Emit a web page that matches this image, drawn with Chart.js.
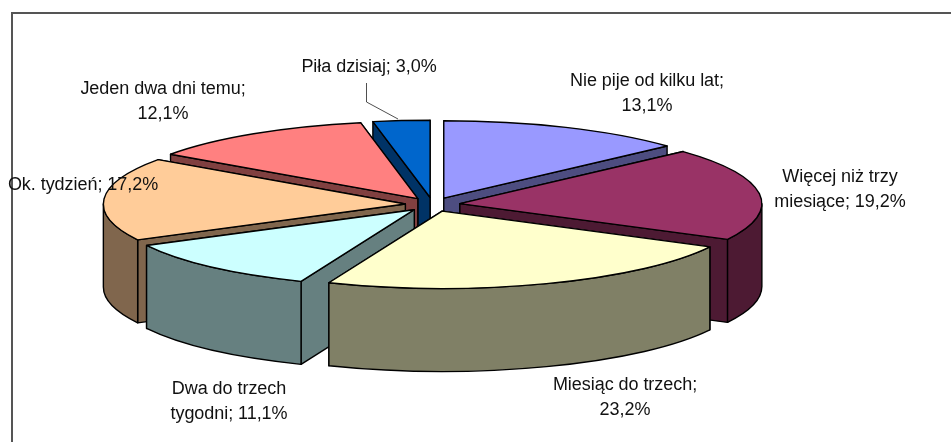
<!DOCTYPE html>
<html lang="pl">
<head>
    <meta charset="UTF-8">
    <title>Pie 3D</title>
    <script src="https://cdn.jsdelivr.net/npm/chart.js"></script>
    <style>
        body { margin: 0; background: #fff; overflow: hidden; }
        #frame {
            position: absolute; left: 11px; top: 12px; right: 0; bottom: 0;
            border-left: 2px solid #555; border-top: 2px solid #555;
        }
        canvas { position: absolute; left: 0; top: 0; }
    </style>
</head>
<body>
    <div id="frame"></div>
    <canvas id="chart" width="951" height="442"></canvas>
    <script>
        const categories = ['Nie pije od kilku lat', 'Więcej niż trzy miesiące', 'Miesiąc do trzech', 'Dwa do trzech tygodni', 'Ok. tydzień', 'Jeden dwa dni temu', 'Piła dzisiaj'];
        const values = [13.1, 19.2, 23.2, 11.1, 17.2, 12.1, 3.0];
        const topColors = ['#9999FF', '#993366', '#FFFFCC', '#CCFFFF', '#FFCC99', '#FF8080', '#0066CC'];
        const wallColors = ['#4D4D80', '#4D1A33', '#808066', '#668080', '#80664D', '#804040', '#003366'];

        // how the flat pie is tilted
        const squash = 0.256;
        const depth = 83;
        const explode = 27.4;
        // back slices first
        const drawOrder = [6, 0, 5, 1, 4, 3, 2];

        // where each label sits: centre x, first baseline, words on the first line
        const labelSpots = [
            { x: 647, y: 86, words: 5 },
            { x: 840, y: 182, words: 3 },
            { x: 625, y: 390, words: 3 },
            { x: 229, y: 394, words: 3 },
            { x: 83, y: 190, words: 4 },
            { x: 163, y: 94, words: 4 },
            { x: 369, y: 72, words: 4 }
        ];

        function labelLines(i) {
            const pct = values[i].toFixed(1).replace('.', ',') + '%';
            const words = (categories[i] + '; ' + pct).split(' ');
            const first = words.slice(0, labelSpots[i].words).join(' ');
            const rest = words.slice(labelSpots[i].words).join(' ');
            return rest ? [first, rest] : [first];
        }

        function drawSlice(ctx, arc, i) {
            const mid = (arc.startAngle + arc.endAngle) / 2;
            const x = arc.x + Math.cos(mid) * explode;
            const y = arc.y + Math.sin(mid) * explode * squash;
            const r = arc.outerRadius;
            const ry = r * squash;
            const rim = a => [x + Math.cos(a) * r, y + Math.sin(a) * ry];

            ctx.lineWidth = 1.4;
            ctx.lineJoin = 'round';
            ctx.strokeStyle = '#000';

            // the flat side walls, the one nearer to the viewer last
            const sides = [arc.startAngle, arc.endAngle].sort((a, b) => rim(a)[1] - rim(b)[1]);
            ctx.fillStyle = wallColors[i];
            sides.forEach(a => {
                const p = rim(a);
                ctx.beginPath();
                ctx.moveTo(x, y);
                ctx.lineTo(p[0], p[1]);
                ctx.lineTo(p[0], p[1] + depth);
                ctx.lineTo(x, y + depth);
                ctx.closePath();
                ctx.fill();
                ctx.stroke();
            });

            // curved wall, only the part that faces front
            const from = Math.max(arc.startAngle, 0);
            const to = Math.min(arc.endAngle, Math.PI);
            if (to > from) {
                ctx.beginPath();
                ctx.ellipse(x, y, r, ry, 0, from, to);
                ctx.ellipse(x, y + depth, r, ry, 0, to, from, true);
                ctx.closePath();
                ctx.fill();
                ctx.stroke();
            }

            // top face
            ctx.fillStyle = arc.options.backgroundColor;
            ctx.beginPath();
            ctx.moveTo(x, y);
            ctx.ellipse(x, y, r, ry, 0, arc.startAngle, arc.endAngle);
            ctx.closePath();
            ctx.fill();
            ctx.stroke();
        }

        const pie3d = {
            id: 'pie3d',
            beforeDatasetDraw(chart) {
                const ctx = chart.ctx;
                const arcs = chart.getDatasetMeta(0).data;
                ctx.save();
                drawOrder.forEach(i => drawSlice(ctx, arcs[i], i));

                // leader line of the small slice
                ctx.strokeStyle = '#222';
                ctx.lineWidth = 0.8;
                ctx.beginPath();
                ctx.moveTo(366.5, 83);
                ctx.lineTo(366.5, 102);
                ctx.lineTo(398, 119);
                ctx.stroke();

                ctx.fillStyle = '#111';
                ctx.font = '18px "Liberation Sans", Arial, sans-serif';
                ctx.letterSpacing = '-0.05px';
                ctx.textAlign = 'center';
                categories.forEach((c, i) => {
                    labelLines(i).forEach((line, n) => {
                        ctx.fillText(line, labelSpots[i].x, labelSpots[i].y + n * 25);
                    });
                });
                ctx.restore();
                return false;
            }
        };

        new Chart(document.getElementById('chart').getContext('2d'), {
            type: 'pie',
            data: {
                labels: categories,
                datasets: [{ data: values, backgroundColor: topColors, radius: 302 }]
            },
            options: {
                responsive: false,
                animation: false,
                layout: { padding: { right: 85.6, bottom: 33 } },
                plugins: { legend: { display: false }, tooltip: { enabled: false } }
            },
            plugins: [pie3d]
        });
    </script>
</body>
</html>
